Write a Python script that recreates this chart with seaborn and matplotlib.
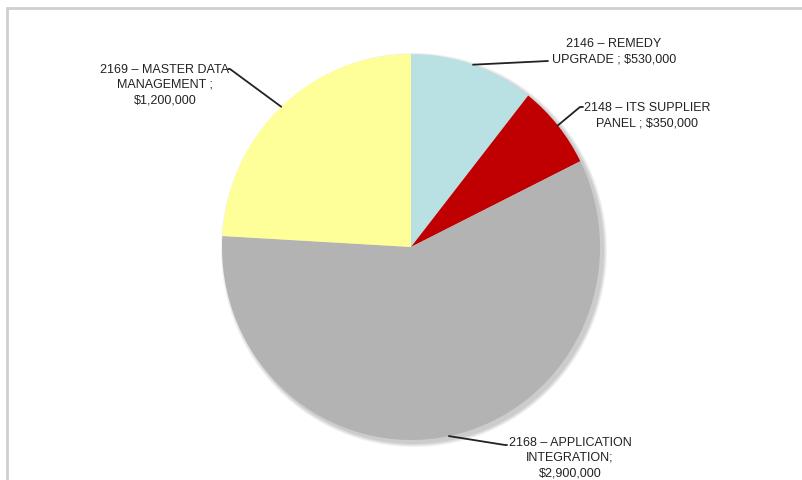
import numpy as np
import matplotlib
matplotlib.use("Agg")
import matplotlib.pyplot as plt
import seaborn as sns
from matplotlib.patches import Ellipse
from matplotlib.lines import Line2D

sns.set_theme(style="white")
plt.rcParams["font.family"] = ["Liberation Sans", "DejaVu Sans"]

projects = ["2146 – REMEDY UPGRADE", "2148 – ITS SUPPLIER PANEL",
            "2168 – APPLICATION INTEGRATION", "2169 – MASTER DATA MANAGEMENT"]
budgets = [530000, 350000, 2900000, 1200000]
label_texts = ["2146 – REMEDY\nUPGRADE ; $530,000",
               "2148 – ITS SUPPLIER\nPANEL ; $350,000",
               "2168 – APPLICATION\nINTEGRATION;\n$2,900,000",
               "2169 – MASTER DATA\nMANAGEMENT ;\n$1,200,000"]
slice_colors = ["#b9e0e3", "#c00000", "#b3b3b3", "#ffff99"]

W, H = 803, 481
CX, CY, RX, RY = 411, 248, 189, 193

fig = plt.figure(figsize=(W / 100, H / 100), dpi=100)
ax = fig.add_axes([0, 0, 1, 1])


def px(x, y):
    """Pixel position -> data coordinates."""
    return (x - CX) / RX, (CY - y) / RY


# soft drop shadow behind the pie
for k, a in enumerate([0.10, 0.10, 0.12, 0.14]):
    off = (4 - k) / RX
    ax.add_patch(Ellipse((3.0 / RX, -3.0 / RY), 2 + 2 * off, 2 + 2 * off * RX / RY,
                         color="#808080", alpha=a, lw=0, zorder=1))

wedges, _ = ax.pie(budgets, colors=slice_colors, startangle=90, counterclock=False,
                   radius=1, wedgeprops=dict(linewidth=0))
for w in wedges:
    w.set_zorder(2)

ax.set_aspect("auto")
ax.set_xlim(-CX / RX, (W - CX) / RX)
ax.set_ylim(-(H - CY) / RY, CY / RY)
ax.axis("off")

# label anchors: (elbow point, end point, text position)
layout = [
    (px(548, 62), px(548, 62), px(614, 52)),
    (px(580, 108), px(583, 108), px(647, 116)),
    (px(505, 446), px(507, 446), px(570, 458)),
    (px(230, 70), px(228, 70), px(165, 85)),
]

for w, txt, (elbow, end, tpos) in zip(wedges, label_texts, layout):
    mid = np.deg2rad((w.theta1 + w.theta2) / 2)
    x0, y0 = np.cos(mid), np.sin(mid)
    ax.plot([x0, elbow[0], end[0]], [y0, elbow[1], end[1]],
            color="#222222", lw=1.3, zorder=3)
    ax.text(tpos[0], tpos[1], txt, ha="center", va="center", fontsize=9,
            color="#222222", linespacing=1.38, zorder=4)

# frame edges at top and left
fig.add_artist(Line2D([7 / W, 1], [1 - 9 / H, 1 - 9 / H], transform=fig.transFigure,
                      color="#cfcfcf", lw=2))
fig.add_artist(Line2D([7 / W, 7 / W], [0, 1 - 9 / H], transform=fig.transFigure,
                      color="#cfcfcf", lw=2))

fig.savefig("out.png", dpi=100, facecolor="white")
